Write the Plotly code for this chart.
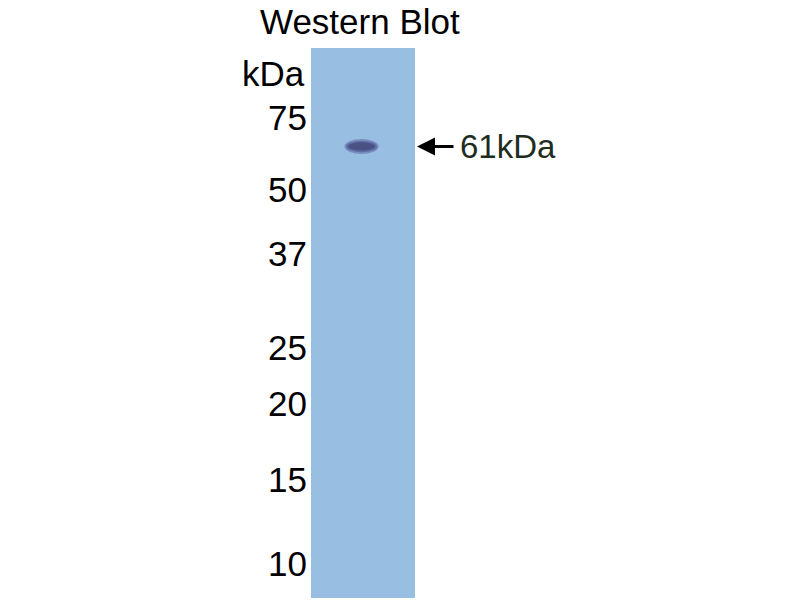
import plotly.graph_objects as go

# %% Data read off the blot
# relative migration (0 = top of lane, 1 = bottom) of the ladder bands
marker_kda = ["75", "50", "37", "25", "20", "15", "10"]
marker_rf = [0.126, 0.257, 0.374, 0.545, 0.647, 0.785, 0.937]

# sample band
band_label = "61kDa"
band_rf = 0.179
band_center = 0.486
band_width = 0.33
band_height = 0.027

lane_color = "#98bee2"
FONT = "Liberation Sans, Arial"

# %% Figure
fig = go.Figure()

# invisible trace so the axes exist
fig.add_trace(go.Scatter(x=[band_center], y=[band_rf], mode="markers",
                         marker=dict(size=1, opacity=0), hoverinfo="skip",
                         showlegend=False))

# band: soft halo + darker core
for scale_w, scale_h, col in [(1.0, 1.0, "#7a8fc0"),
                              (0.9, 0.78, "#5f6ea3"),
                              (0.78, 0.55, "#4a5285")]:
    fig.add_shape(type="circle", xref="x", yref="y",
                  x0=band_center - band_width * scale_w / 2,
                  x1=band_center + band_width * scale_w / 2,
                  y0=band_rf - band_height * scale_h / 2,
                  y1=band_rf + band_height * scale_h / 2,
                  fillcolor=col, line_width=0, layer="above")

# arrow pointing to the band
fig.add_annotation(x=417 / 800, y=band_rf, xref="paper", yref="y",
                   ax=38, ay=0, text="", showarrow=True,
                   arrowhead=2, arrowsize=1.2, arrowwidth=3, arrowcolor="black")
fig.add_annotation(x=458 / 800, y=band_rf, xref="paper", yref="y",
                   text=band_label, showarrow=False, xanchor="left",
                   yanchor="middle",
                   font=dict(family=FONT, size=33, color="#1f2d1f"))

# kDa header
fig.add_annotation(x=307 / 800, y=1 - 73 / 600, xref="paper", yref="paper",
                   text="kDa", showarrow=False, xanchor="right",
                   yanchor="middle",
                   font=dict(family=FONT, size=35, color="black"))

# title
fig.add_annotation(x=360 / 800, y=1, xref="paper", yref="paper",
                   text="Western Blot", showarrow=False, xanchor="center",
                   yanchor="top",
                   font=dict(family=FONT, size=35, color="black"))

fig.update_layout(
    width=800, height=600,
    margin=dict(l=0, r=0, t=0, b=0),
    paper_bgcolor="white",
    plot_bgcolor=lane_color,
    xaxis=dict(domain=[311 / 800, 415 / 800], range=[0, 1],
               showgrid=False, zeroline=False, showticklabels=False,
               ticks="", fixedrange=True),
    yaxis=dict(domain=[2 / 600, 552 / 600], range=[1, 0],
               tickvals=marker_rf, ticktext=marker_kda, ticks="",
               ticklabelstandoff=3, fixedrange=True,
               showgrid=False, zeroline=False,
               tickfont=dict(family=FONT, size=35, color="black")),
)

# drop the default body margin so the figure sits at the page corner
fig.write_html("out.html", config={"displayModeBar": False},
               post_script="document.body.style.margin='0';")
